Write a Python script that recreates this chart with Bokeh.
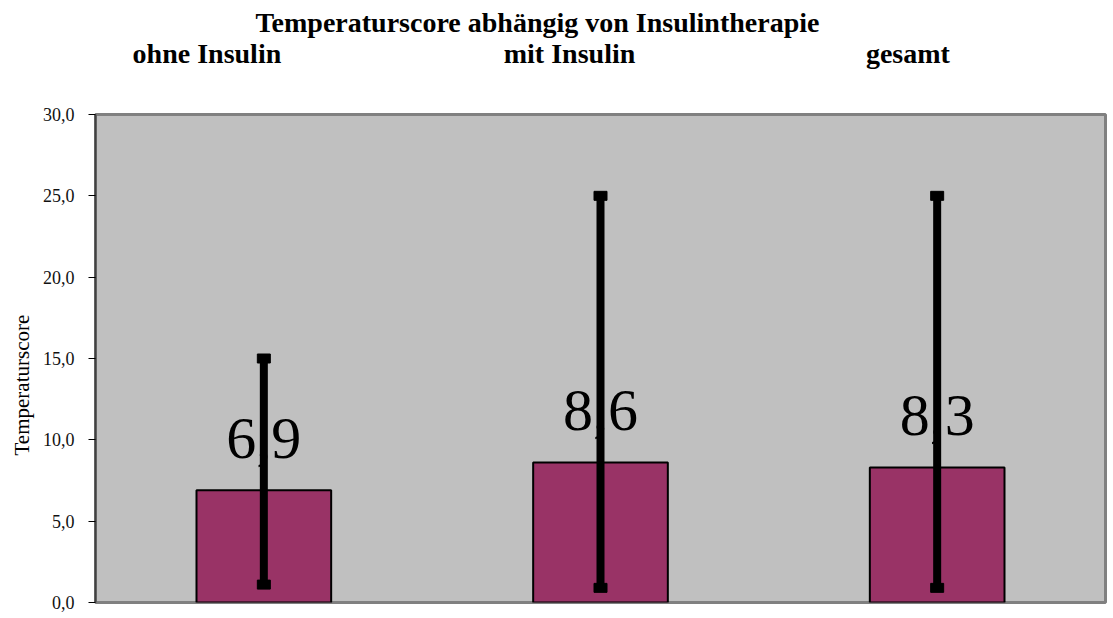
from bokeh.plotting import figure
from bokeh.models import ColumnDataSource, Range1d, FixedTicker, LinearAxis, Title
from bokeh.embed import file_html
from bokeh.resources import INLINE
from bokeh.core.properties import value

# ---- data ----
categories = ["ohne Insulin", "mit Insulin", "gesamt"]
means = [6.9, 8.6, 8.3]
mean_labels = ["6,9", "8,6", "8,3"]
lows = [1.1, 0.9, 0.9]
highs = [15.0, 25.0, 25.0]
y_ticks = [0, 5, 10, 15, 20, 25, 30]
y_tick_labels = ["0,0", "5,0", "10,0", "15,0", "20,0", "25,0", "30,0"]
title_text = "Temperaturscore abhängig von Insulintherapie"
y_label = "Temperaturscore"

SERIF = "Liberation Serif"

xs = [i + 0.5 for i in range(len(categories))]
src = ColumnDataSource(dict(x=xs, top=means, lab=mean_labels, lo=lows, hi=highs))

p = figure(width=1113, height=618, output_backend="svg", toolbar_location=None,
           x_range=Range1d(0, 3), y_range=Range1d(0, 30), x_axis_type=None,
           min_border_left=95, min_border_right=8, min_border_top=114, min_border_bottom=16)

p.background_fill_color = "#C0C0C0"
p.border_fill_color = "white"
p.outline_line_color = "#808080"
p.outline_line_width = 3
p.xgrid.visible = False
p.ygrid.visible = False

ax = p.yaxis[0]
ax.ticker = FixedTicker(ticks=y_ticks)
ax.major_label_overrides = {t: l for t, l in zip(y_ticks, y_tick_labels)}
ax.major_label_text_font = SERIF
ax.major_label_text_font_size = "18px"
ax.major_label_text_color = "#111111"
ax.major_label_standoff = 14
ax.major_tick_out = 7
ax.major_tick_in = 0
ax.minor_tick_out = 0
ax.minor_tick_in = 0
ax.major_tick_line_color = "black"
ax.axis_line_color = "#404040"
ax.axis_line_width = 2

# y-axis title, placed as in the original (slightly below the centre)
p.add_layout(Title(text=y_label, text_font=SERIF, text_font_size="21px",
                   text_font_style="normal", text_color="black", align="left",
                   offset=147, standoff=12), "left")

# category headings: an axis above the plot (positions as in the original header line)
cat_x = [0.331, 1.408, 2.413]
top_ax = LinearAxis(ticker=FixedTicker(ticks=cat_x),
                    major_label_overrides={x: c for x, c in zip(cat_x, categories)})
top_ax.axis_line_color = None
top_ax.major_tick_line_color = None
top_ax.minor_tick_line_color = None
top_ax.major_tick_out = 0
top_ax.major_tick_in = 0
top_ax.major_label_standoff = 46
top_ax.major_label_text_font = SERIF
top_ax.major_label_text_font_size = "28px"
top_ax.major_label_text_font_style = "bold"
top_ax.major_label_text_color = "black"
p.add_layout(top_ax, "above")

p.add_layout(Title(text=title_text, text_font=SERIF, text_font_size="28px",
                   text_font_style="bold", text_color="black", align="left",
                   offset=160, standoff=-7), "above")

# bars
p.vbar(x="x", top="top", bottom=0, width=0.4, source=src,
       fill_color="#993366", line_color="black", line_width=2)

# value labels (behind the error bars)
p.text(x="x", y="top", text="lab", source=src, text_font=value(SERIF),
       text_font_size="60px", text_align="center", text_baseline="alphabetic",
       y_offset=-52, text_color="black")

# error bars
p.segment(x0="x", y0="lo", x1="x", y1="hi", source=src, line_color="black", line_width=8)
p.rect(x="x", y="hi", width=13, height=9, width_units="screen", height_units="screen",
       source=src, fill_color="black", line_color="black")
p.rect(x="x", y="lo", width=13, height=9, width_units="screen", height_units="screen",
       source=src, fill_color="black", line_color="black")

open("out.html", "w").write(file_html(p, INLINE))
